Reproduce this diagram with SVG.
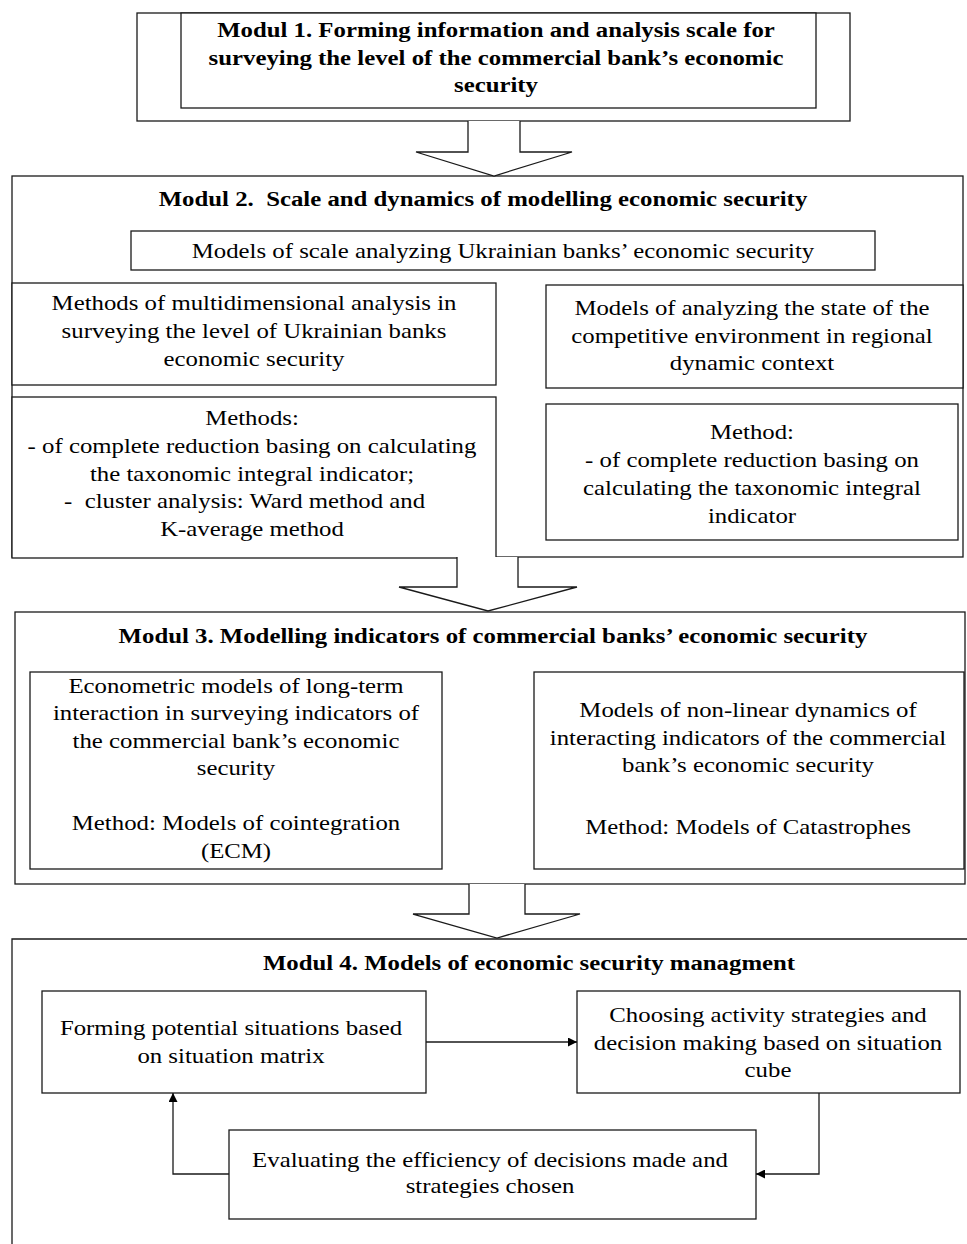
<svg xmlns="http://www.w3.org/2000/svg" width="967" height="1244" viewBox="0 0 967 1244">
<style>
.box{fill:#fff;stroke:#1a1a1a;stroke-width:1.3}
.frame{fill:none;stroke:#1a1a1a;stroke-width:1.3}
.t{font-family:"Liberation Serif","Times New Roman",serif;font-size:20px;text-anchor:middle;fill:#000}
.b{font-weight:bold}
.conn{fill:none;stroke:#1a1a1a;stroke-width:1.3}
.barrow{fill:#fff;stroke:#1a1a1a;stroke-width:1.3;stroke-linejoin:miter}
</style>
<defs>
<marker id="ah" markerUnits="userSpaceOnUse" markerWidth="9" markerHeight="9" refX="9" refY="4.5" orient="auto">
<path d="M0,0 L9,4.5 L0,9 z" fill="#000"/>
</marker>
</defs>

<g id="modul1">
<rect class="box" x="137" y="13" width="713" height="108"/>
<rect class="box" x="181" y="13" width="635" height="95"/>
<g class="t b" transform="translate(496 0) scale(1.24 1)">
<text x="0" y="37">Modul 1. Forming information and analysis scale for</text>
<text x="0" y="65">surveying the level of the commercial bank’s economic</text>
<text x="0" y="92">security</text>
</g>
</g>

<g id="modul2">
<rect class="box" x="12" y="176" width="951" height="381"/>
<g class="t b" transform="translate(483 0) scale(1.24 1)">
<text x="0" y="206">Modul 2.&#160; Scale and dynamics of modelling economic security</text>
</g>
</g>

<g id="scale-models">
<rect class="box" x="131" y="231" width="744" height="39"/>
<g class="t" transform="translate(503 0) scale(1.24 1)">
<text x="0" y="258">Models of scale analyzing Ukrainian banks’ economic security</text>
</g>
</g>

<g id="multidim">
<rect class="box" x="12" y="283" width="484" height="102"/>
<g class="t" transform="translate(254 0) scale(1.24 1)">
<text x="0" y="310">Methods of multidimensional analysis in</text>
<text x="0" y="338">surveying the level of Ukrainian banks</text>
<text x="0" y="366">economic security</text>
</g>
</g>

<g id="competitive">
<rect class="box" x="546" y="285" width="417" height="103"/>
<g class="t" transform="translate(752 0) scale(1.24 1)">
<text x="0" y="315">Models of analyzing the state of the</text>
<text x="0" y="343">competitive environment in regional</text>
<text x="0" y="370">dynamic context</text>
</g>
</g>

<g id="methods-left">
<rect class="box" x="12" y="397" width="484" height="161"/>
<g class="t" transform="translate(252 0) scale(1.24 1)">
<text x="0" y="425">Methods:</text>
<text x="0" y="453">- of complete reduction basing on calculating</text>
<text x="0" y="481">the taxonomic integral indicator;</text>
<text x="-6" y="508">-&#160; cluster analysis: Ward method and</text>
<text x="0" y="536">K-average method</text>
</g>
</g>

<g id="method-right">
<rect class="box" x="546" y="404" width="412" height="136"/>
<g class="t" transform="translate(752 0) scale(1.24 1)">
<text x="0" y="439">Method:</text>
<text x="0" y="467">- of complete reduction basing on</text>
<text x="0" y="495">calculating the taxonomic integral</text>
<text x="0" y="523">indicator</text>
</g>
</g>

<g id="modul3">
<rect class="box" x="15" y="612" width="950" height="272"/>
<g class="t b" transform="translate(493 0) scale(1.24 1)">
<text x="0" y="643">Modul 3. Modelling indicators of commercial banks’ economic security</text>
</g>
</g>

<g id="econometric">
<rect class="box" x="30" y="672" width="412" height="197"/>
<g class="t" transform="translate(236 0) scale(1.24 1)">
<text x="0" y="693">Econometric models of long-term</text>
<text x="0" y="720">interaction in surveying indicators of</text>
<text x="0" y="748">the commercial bank’s economic</text>
<text x="0" y="775">security</text>
<text x="0" y="830">Method: Models of cointegration</text>
<text x="0" y="858">(ECM)</text>
</g>
</g>

<g id="nonlinear">
<rect class="box" x="534" y="672" width="430" height="197"/>
<g class="t" transform="translate(748 0) scale(1.24 1)">
<text x="0" y="717">Models of non-linear dynamics of</text>
<text x="0" y="745">interacting indicators of the commercial</text>
<text x="0" y="772">bank’s economic security</text>
<text x="0" y="834">Method: Models of Catastrophes</text>
</g>
</g>

<g id="modul4">
<path class="frame" d="M12,1250 V939 H967"/>
<g class="t b" transform="translate(529 0) scale(1.24 1)">
<text x="0" y="970">Modul 4. Models of economic security managment</text>
</g>
</g>

<g id="forming">
<rect class="box" x="42" y="991" width="384" height="102"/>
<g class="t" transform="translate(231 0) scale(1.24 1)">
<text x="0" y="1035">Forming potential situations based</text>
<text x="0" y="1063">on situation matrix</text>
</g>
</g>

<g id="choosing">
<rect class="box" x="577" y="991" width="383" height="102"/>
<g class="t" transform="translate(768 0) scale(1.24 1)">
<text x="0" y="1022">Choosing activity strategies and</text>
<text x="0" y="1050">decision making based on situation</text>
<text x="0" y="1077">cube</text>
</g>
</g>

<g id="evaluating">
<rect class="box" x="229" y="1130" width="527" height="89"/>
<g class="t" transform="translate(490 0) scale(1.24 1)">
<text x="0" y="1167">Evaluating the efficiency of decisions made and</text>
<text x="0" y="1193">strategies chosen</text>
</g>
</g>

<g id="connectors">
<polyline class="barrow" points="468,121 468,152 416,152 494,176 572,152 520,152 520,121"/>
<polyline class="barrow" points="457,557 457,587 399,587 488,611 577,587 518,587 518,557"/>
<polyline class="barrow" points="469,884 469,914 413,914 497,938 580,914 525,914 525,884"/>
<line class="conn" x1="426" y1="1042" x2="577" y2="1042" marker-end="url(#ah)"/>
<polyline class="conn" points="819,1093 819,1174 756,1174" marker-end="url(#ah)"/>
<polyline class="conn" points="229,1174 173,1174 173,1093" marker-end="url(#ah)"/>
</g>
</svg>
